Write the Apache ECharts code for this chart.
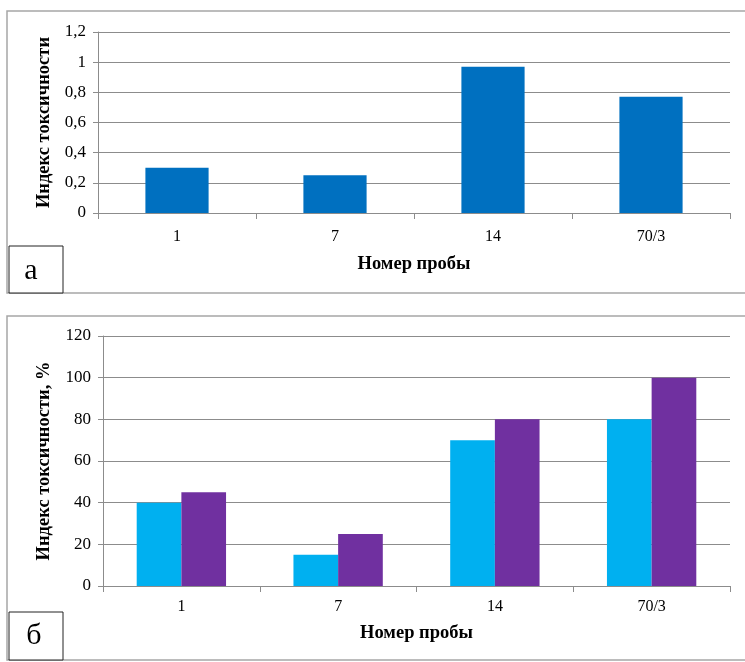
<!DOCTYPE html>
<html>
<head>
<meta charset="utf-8">
<script src="https://cdn.jsdelivr.net/npm/echarts@6/dist/echarts.min.js"></script>
<style>
html,body{margin:0;padding:0;background:#fff;}
#c{width:745px;height:662px;}
</style>
</head>
<body>
<div id="c"></div>
<script>
const categories = ['1', '7', '14', '70/3'];
const seriesA = [0.3, 0.25, 0.97, 0.77];
const seriesB1 = [40, 15, 70, 80];
const seriesB2 = [45, 25, 80, 100];
const yTicksA = {min: 0, max: 1.2, interval: 0.2};
const yTicksB = {min: 0, max: 120, interval: 20};

const FONT = '"Liberation Serif", "Times New Roman", serif';
const gridColor = '#8c8c8c';

const chart = echarts.init(document.getElementById('c'), null, {renderer: 'canvas'});

function yAxis(idx, ticks, name, gap, fmt) {
  return {
    type: 'value', gridIndex: idx, min: ticks.min, max: ticks.max, interval: ticks.interval,
    name: name, nameLocation: 'middle', nameGap: gap, nameRotate: 90,
    nameTextStyle: {fontFamily: FONT, fontWeight: 'bold', fontSize: 18.5, color: '#000'},
    axisLine: {show: true, lineStyle: {color: gridColor, width: 1}},
    axisTick: {show: true, length: 5, lineStyle: {color: gridColor}},
    axisLabel: {fontFamily: FONT, fontSize: 17, color: '#000', margin: 12, formatter: fmt},
    splitLine: {show: true, lineStyle: {color: gridColor, width: 1.2}}
  };
}
function xAxis(idx, margin, nameGap) {
  return {
    type: 'category', gridIndex: idx, data: categories,
    name: 'Номер пробы', nameLocation: 'middle', nameGap: nameGap,
    nameTextStyle: {fontFamily: FONT, fontWeight: 'bold', fontSize: 18.5, color: '#000'},
    axisLine: {show: true, lineStyle: {color: gridColor, width: 1.2}},
    axisTick: {show: true, length: 6, alignWithLabel: false, lineStyle: {color: gridColor}},
    axisLabel: {fontFamily: FONT, fontSize: 16, color: '#000', margin: margin},
    splitLine: {show: false}
  };
}

const option = {
  animation: false,
  backgroundColor: '#fff',
  grid: [
    {left: 98, top: 32, width: 632, height: 181},
    {left: 103, top: 336, width: 627, height: 250}
  ],
  xAxis: [xAxis(0, 16, 42), xAxis(1, 13, 38)],
  yAxis: [
    yAxis(0, yTicksA, 'Индекс токсичности', 44, v => String(+v.toFixed(1)).replace('.', ',')),
    yAxis(1, yTicksB, 'Индекс токсичности, %', 49, v => String(v))
  ],
  series: [
    {type: 'bar', xAxisIndex: 0, yAxisIndex: 0, data: seriesA, barCategoryGap: '60%',
     itemStyle: {color: '#0070C0'}},
    {type: 'bar', xAxisIndex: 1, yAxisIndex: 1, data: seriesB1, barCategoryGap: '43%', barGap: '0%',
     itemStyle: {color: '#00B0F0'}},
    {type: 'bar', xAxisIndex: 1, yAxisIndex: 1, data: seriesB2, barCategoryGap: '43%', barGap: '0%',
     itemStyle: {color: '#7030A0'}}
  ],
  graphic: [
    {type: 'rect', shape: {x: 7, y: 11, width: 760, height: 282}, style: {fill: null, stroke: '#a6a6a6', lineWidth: 1.5}, z: 0},
    {type: 'rect', shape: {x: 9, y: 246, width: 54, height: 47}, style: {fill: '#fff', stroke: '#222', lineWidth: 1}, z: 10},
    {type: 'text', x: 31, y: 271, style: {text: 'а', font: '30px ' + FONT, fill: '#000', textAlign: 'center', textVerticalAlign: 'middle'}, z: 11},
    {type: 'rect', shape: {x: 7, y: 316, width: 760, height: 344}, style: {fill: null, stroke: '#a6a6a6', lineWidth: 1.5}, z: 0},
    {type: 'rect', shape: {x: 9, y: 612, width: 54, height: 48}, style: {fill: '#fff', stroke: '#222', lineWidth: 1}, z: 10},
    {type: 'text', x: 34, y: 636, style: {text: 'б', font: '30px ' + FONT, fill: '#000', textAlign: 'center', textVerticalAlign: 'middle'}, z: 11}
  ]
};
chart.setOption(option);
</script>
</body>
</html>
